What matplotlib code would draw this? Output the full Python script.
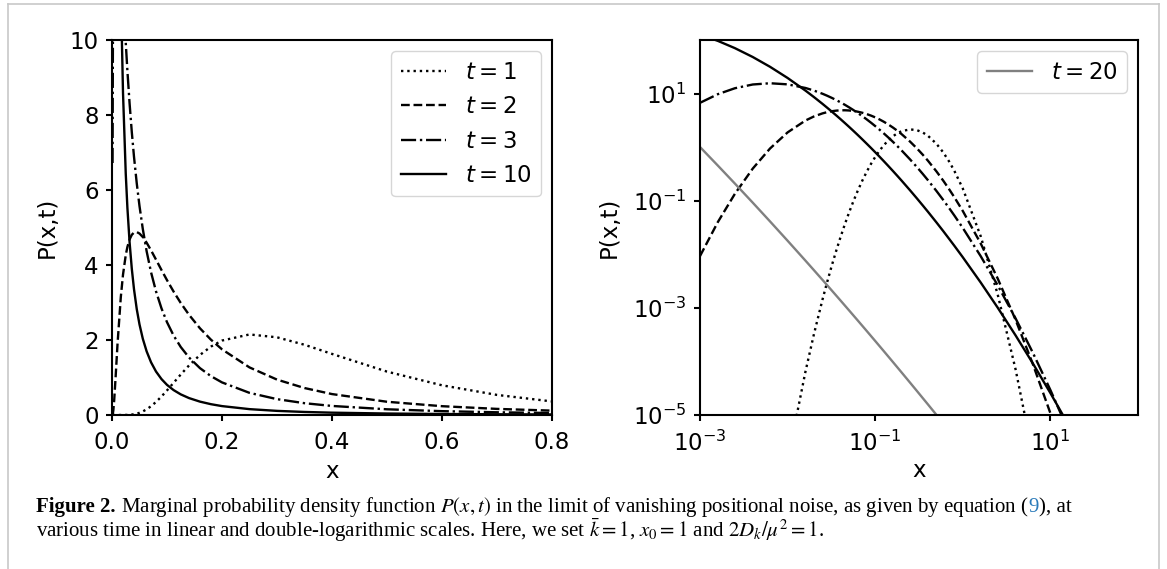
import numpy as np
import matplotlib
matplotlib.use("Agg")
import matplotlib.pyplot as plt
import matplotlib.ticker as ticker
from matplotlib.lines import Line2D

plt.rcParams.update({
    "font.family": "DejaVu Sans",
    "font.size": 16.5,
    "axes.linewidth": 1.5,
    "xtick.major.width": 1.5,
    "ytick.major.width": 1.5,
    "xtick.major.size": 4.2,
    "ytick.major.size": 4.2,
    "xtick.major.pad": 7.0,
    "ytick.major.pad": 5.5,
})

# sample positions for t = 1, 2, 3, 10
x_vals = [0.001, 0.0016, 0.0025, 0.004, 0.0063, 0.01, 0.016, 0.02, 0.025, 0.028,
          0.032, 0.036, 0.04, 0.045, 0.05, 0.056, 0.063, 0.071, 0.08, 0.09, 0.1,
          0.112, 0.125, 0.14, 0.16, 0.18, 0.2, 0.25, 0.3, 0.35, 0.4, 0.5, 0.6, 0.7,
          0.8, 1.0, 1.6, 2.5, 4.0, 6.3, 10, 16, 25]

p_t1 = [1.65e-18, 1.45e-15, 5.17e-13, 1.41e-10, 1.80e-8, 1.40e-6, 6.49e-5, 3.25e-4,
        1.42e-3, 2.853e-3, 6.21e-3, 0.01183, 0.0204, 0.03623, 0.0586, 0.09512, 0.1516,
        0.2341, 0.3474, 0.4940, 0.6555, 0.8593, 1.080, 1.321, 1.602, 1.825, 1.985,
        2.148, 2.072, 1.873, 1.629, 1.157, 0.792, 0.5355, 0.362, 0.1689, 0.0218,
        1.789e-3, 7.16e-5, 1.80e-6, 2.40e-8, 1.63e-10, 8.21e-13]

p_t2 = [9.26e-3, 0.04005, 0.1343, 0.3977, 0.9433, 1.885, 3.143, 3.742, 4.265, 4.481,
        4.683, 4.805, 4.866, 4.879, 4.839, 4.746, 4.594, 4.391, 4.144, 3.866, 3.596,
        3.291, 2.987, 2.673, 2.311, 2.007, 1.751, 1.269, 0.944, 0.719, 0.558, 0.353,
        0.235, 0.1628, 0.1165, 0.0643, 0.01594, 3.538e-3, 6.00e-4, 8.95e-5, 1.078e-5,
        1.030e-6, 9.25e-8]

p_t3 = [6.720, 9.749, 12.57, 14.77, 15.59, 14.86, 12.72, 11.37, 9.928, 9.179, 8.304,
        7.544, 6.886, 6.178, 5.572, 4.960, 4.364, 3.806, 3.298, 2.843, 2.475, 2.119,
        1.813, 1.534, 1.249, 1.035, 0.8692, 0.5904, 0.4229, 0.3148, 0.2415, 0.1522,
        0.1025, 0.0724, 0.0531, 0.0310, 9.234e-3, 2.644e-3, 6.38e-4, 1.457e-4,
        2.927e-5, 5.138e-6, 8.914e-7]

p_t10 = [126.5, 96.25, 70.52, 48.16, 31.62, 19.55, 11.35, 8.597, 6.435, 5.525, 4.601,
         3.900, 3.354, 2.824, 2.415, 2.034, 1.696, 1.405, 1.160, 0.9575, 0.8037,
         0.6641, 0.5501, 0.4514, 0.3562, 0.2880, 0.2374, 0.1563, 0.1100, 0.0812,
         0.0622, 0.0394, 0.0269, 0.0193, 0.01445, 8.805e-3, 2.977e-3, 1.011e-3,
         3.070e-4, 9.21e-5, 2.567e-5, 6.63e-6, 1.740e-6]

# t = 20 only appears on the log-log panel
x_t20 = [0.001, 0.0016, 0.0025, 0.004, 0.0063, 0.01, 0.016, 0.02, 0.025, 0.032, 0.04,
         0.05, 0.063, 0.08, 0.1, 0.125, 0.16, 0.2, 0.25, 0.3, 0.35, 0.4, 0.5, 0.6,
         0.7, 0.8, 1.0, 1.6, 2.5, 4.0, 6.3, 10, 16, 25]

p_t20 = [1.006, 0.452, 0.2093, 0.0920, 0.04109, 0.0179, 7.600e-3, 5.040e-3, 3.334e-3,
         2.103e-3, 1.384e-3, 9.078e-4, 5.852e-4, 3.705e-4, 2.410e-4, 1.565e-4,
         9.667e-5, 6.24e-5, 4.017e-5, 2.798e-5, 2.057e-5, 1.577e-5, 1.006e-5, 6.96e-6,
         5.09e-6, 3.88e-6, 2.455e-6, 9.30e-7, 3.66e-7, 1.356e-7, 5.14e-8, 1.89e-8,
         6.77e-9, 2.52e-9]

curves = [
    (p_t1, ":", "$t = 1$"),
    (p_t2, "--", "$t = 2$"),
    (p_t3, "-.", "$t = 3$"),
    (p_t10, "-", "$t = 10$"),
]

W, H = 1167, 569
LW = 1.7

fig = plt.figure(figsize=(W / 100, H / 100), dpi=100)
ax1 = fig.add_axes([112 / W, 1 - 415 / H, 440 / W, 375 / H])
ax2 = fig.add_axes([700 / W, 1 - 415 / H, 438 / W, 375 / H])

# ── linear scale ──
for p, ls, lab in curves:
    ax1.plot(x_vals, p, color="black", linestyle=ls, linewidth=LW, label=lab)
ax1.set_xlim(0, 0.8)
ax1.set_ylim(0, 10)
ax1.set_xticks([0.0, 0.2, 0.4, 0.6, 0.8])
ax1.set_yticks([0, 2, 4, 6, 8, 10])
ax1.xaxis.set_major_formatter(ticker.FormatStrFormatter("%.1f"))
ax1.set_xlabel("x", labelpad=4.5)
ax1.set_ylabel("P(x,t)", labelpad=7.5)
ax1.legend(loc="upper right", fontsize=16.5)

# ── double-log scale ──
for p, ls, lab in curves:
    ax2.plot(x_vals, p, color="black", linestyle=ls, linewidth=LW)
ax2.plot(x_t20, p_t20, color="gray", linewidth=LW, label="$t = 20$")
ax2.set_xscale("log")
ax2.set_yscale("log")
ax2.set_xlim(1e-3, 1e2)
ax2.set_ylim(1e-5, 1e2)
ax2.set_xticks([1e-3, 1e-1, 1e1])
ax2.set_yticks([1e-5, 1e-3, 1e-1, 1e1])
ax2.xaxis.set_minor_locator(ticker.NullLocator())
ax2.yaxis.set_minor_locator(ticker.NullLocator())
ax2.set_xlabel("x", labelpad=2.5)
ax2.set_ylabel("P(x,t)", labelpad=9)
ax2.legend(loc="upper right", fontsize=16.5)

# page frame
frame = "#c8c8c8"
fig.add_artist(Line2D([7.5 / W, 7.5 / W], [0, 1 - 4 / H], transform=fig.transFigure, color=frame, lw=1.2))
fig.add_artist(Line2D([7.5 / W, 1159 / W], [1 - 4 / H, 1 - 4 / H], transform=fig.transFigure, color=frame, lw=1.2))
fig.add_artist(Line2D([1159 / W, 1159 / W], [0, 1 - 4 / H], transform=fig.transFigure, color=frame, lw=1.2))

# caption, laid out chunk by chunk so the equation number can be coloured
serif = "Liberation Serif"
cap_size = 15.0
renderer = fig.canvas.get_renderer()
chunks = [
    ("Figure 2.", "bold", "black"),
    (" Marginal probability density function $P(x,t)$ in the limit of vanishing "
     "positional noise, as given by equation (", "normal", "black"),
    ("9", "normal", "#2b7bba"),
    ("), at", "normal", "black"),
]
xpos = 36 / W
for s, wt, col in chunks:
    t = fig.text(xpos, 1 - 512 / H, s, family=serif, fontsize=cap_size, weight=wt,
                 color=col, va="baseline", math_fontfamily="stix")
    xpos = t.get_window_extent(renderer).x1 / W
fig.text(36 / W, 1 - 537 / H,
         r"various time in linear and double-logarithmic scales. Here, we set $\bar{k} = 1$, "
         r"$x_0 = 1$ and $2D_k/\mu^2 = 1$.",
         family=serif, fontsize=cap_size, va="baseline", math_fontfamily="stix")

fig.savefig("out.png", dpi=100)
